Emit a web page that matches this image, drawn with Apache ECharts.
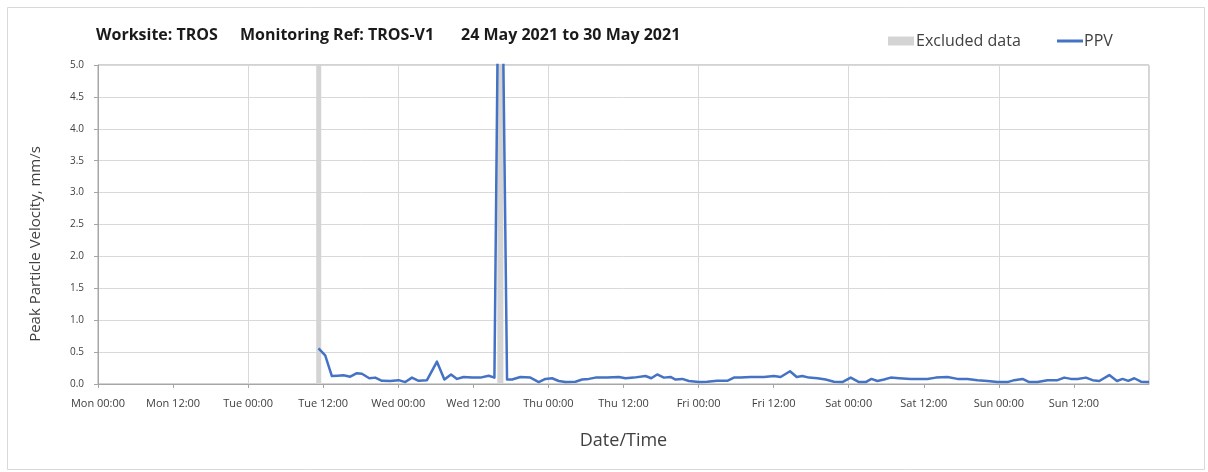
<!DOCTYPE html>
<html>
<head>
<meta charset="utf-8">
<script src="https://cdn.jsdelivr.net/npm/echarts@6/dist/echarts.min.js"></script>
<style>
html,body{margin:0;padding:0;background:#fff;}
#main{width:1208px;height:472px;}
</style>
</head>
<body>
<div id="main"></div>
<script>
// ---- data ----
var titleParts = ['Worksite: TROS', 'Monitoring Ref: TROS-V1', '24 May 2021 to 30 May 2021'];
var yAxisTitle = 'Peak Particle Velocity, mm/s';
var xAxisTitle = 'Date/Time';
var yTicks = [0, 0.5, 1.0, 1.5, 2.0, 2.5, 3.0, 3.5, 4.0, 4.5, 5.0];
var axisStart = '2021-05-24 00:00';
var axisEnd = '2021-05-31 00:00';
var dayNames = ['Sun', 'Mon', 'Tue', 'Wed', 'Thu', 'Fri', 'Sat'];
var excludedStart = ['2021-05-25 10:53', '2021-05-26 15:50'];
var excludedEnd   = ['2021-05-25 11:41', '2021-05-26 16:48'];
var ppvTimes = [
 '2021-05-25 11:15','2021-05-25 12:19','2021-05-25 13:23','2021-05-25 14:19','2021-05-25 15:15','2021-05-25 16:19',
 '2021-05-25 17:23','2021-05-25 18:11','2021-05-25 19:22','2021-05-25 20:19','2021-05-25 21:23','2021-05-25 22:43',
 '2021-05-26 00:03','2021-05-26 01:07','2021-05-26 02:11','2021-05-26 03:15','2021-05-26 04:35','2021-05-26 06:11',
 '2021-05-26 07:22','2021-05-26 08:26','2021-05-26 09:23','2021-05-26 10:27','2021-05-26 11:47','2021-05-26 13:07',
 '2021-05-26 14:27','2021-05-26 15:22','2021-05-26 16:17','2021-05-26 17:23','2021-05-26 18:11','2021-05-26 19:31',
 '2021-05-26 21:07','2021-05-26 22:27','2021-05-26 23:31',
 '2021-05-27 00:35','2021-05-27 01:39','2021-05-27 02:43','2021-05-27 04:19','2021-05-27 05:23','2021-05-27 06:27',
 '2021-05-27 07:31','2021-05-27 09:23','2021-05-27 11:15','2021-05-27 12:19','2021-05-27 13:39','2021-05-27 15:31',
 '2021-05-27 16:26','2021-05-27 17:23','2021-05-27 18:27','2021-05-27 19:31','2021-05-27 20:19','2021-05-27 21:23',
 '2021-05-27 22:27',
 '2021-05-28 00:03','2021-05-28 01:23','2021-05-28 02:59','2021-05-28 04:35','2021-05-28 05:39','2021-05-28 06:43',
 '2021-05-28 08:19','2021-05-28 10:27','2021-05-28 12:03','2021-05-28 13:07','2021-05-28 14:37','2021-05-28 15:41',
 '2021-05-28 16:35','2021-05-28 17:39','2021-05-28 19:00','2021-05-28 20:19','2021-05-28 21:39','2021-05-28 22:59',
 '2021-05-29 00:19','2021-05-29 01:39','2021-05-29 02:43','2021-05-29 03:38','2021-05-29 04:35','2021-05-29 05:39',
 '2021-05-29 06:43','2021-05-29 08:03','2021-05-29 09:55','2021-05-29 12:35','2021-05-29 13:55','2021-05-29 15:47',
 '2021-05-29 17:23','2021-05-29 18:59','2021-05-29 20:35','2021-05-29 22:11','2021-05-29 23:47',
 '2021-05-30 01:23','2021-05-30 02:27','2021-05-30 03:47','2021-05-30 04:51','2021-05-30 06:11','2021-05-30 07:47',
 '2021-05-30 09:23','2021-05-30 10:27','2021-05-30 11:31','2021-05-30 12:35','2021-05-30 13:55','2021-05-30 14:59',
 '2021-05-30 16:03','2021-05-30 17:39','2021-05-30 18:53','2021-05-30 19:47','2021-05-30 20:41','2021-05-30 21:39',
 '2021-05-30 22:43','2021-05-31 00:00'
];
var ppvValues = [
 0.56,0.45,0.125,0.13,0.136,0.115,
 0.17,0.16,0.09,0.10,0.05,0.047,
 0.06,0.03,0.10,0.05,0.06,0.35,
 0.07,0.15,0.08,0.11,0.10,0.10,
 0.13,0.10,9.4,0.07,0.07,0.11,
 0.10,0.03,0.08,
 0.09,0.047,0.03,0.036,0.07,0.08,
 0.10,0.10,0.11,0.09,0.10,0.125,
 0.09,0.15,0.10,0.11,0.07,0.08,
 0.047,
 0.03,0.036,0.05,0.05,0.10,0.10,
 0.11,0.11,0.125,0.11,0.20,0.11,
 0.125,0.10,0.09,0.07,0.036,0.03,
 0.10,0.03,0.03,0.08,0.047,0.07,
 0.10,0.09,0.08,0.08,0.10,0.11,
 0.08,0.08,0.06,0.047,0.03,
 0.03,0.06,0.08,0.03,0.03,0.06,
 0.06,0.10,0.08,0.08,0.10,0.06,
 0.047,0.14,0.047,0.08,0.05,0.09,
 0.036,0.03
];

// ---- helpers ----
function toMs(s) {
  var p = s.split(/[- :]/).map(Number);
  return Date.UTC(p[0], p[1] - 1, p[2], p[3], p[4]);
}
function pad(n) { return (n < 10 ? '0' : '') + n; }
var HOUR = 3600000;
var xMin = toMs(axisStart), xMax = toMs(axisEnd);
var ppvData = ppvTimes.map(function (t, i) { return [toMs(t), ppvValues[i]]; });
var bands = excludedStart.map(function (s, i) {
  return [{ xAxis: toMs(s) }, { xAxis: toMs(excludedEnd[i]) }];
});

var FONT = 'Open Sans';
var titleStyle = { fontFamily: FONT, fontSize: 16, fontWeight: 'bold', color: '#1a1a1a' };
var chart = echarts.init(document.getElementById('main'), null, { renderer: 'canvas' });
var option = {
  backgroundColor: '#ffffff',
  animation: false,
  title: [
    { text: titleParts[0], left: 96, top: 27, padding: 0, textStyle: titleStyle },
    { text: titleParts[1], left: 240, top: 27, padding: 0, textStyle: titleStyle },
    { text: titleParts[2], left: 461, top: 27, padding: 0, textStyle: titleStyle }
  ],
  legend: [{
    left: 888, top: 33, padding: 0,
    itemWidth: 26, itemHeight: 9,
    textStyle: { fontFamily: FONT, fontSize: 16, color: '#404040', padding: [0, 0, 0, -3] },
    data: [{ name: 'Excluded data', icon: 'rect', itemStyle: { color: '#d4d4d4' } }]
  }, {
    left: 1057, top: 33, padding: 0,
    itemWidth: 26, itemHeight: 3,
    textStyle: { fontFamily: FONT, fontSize: 16, color: '#404040', padding: [0, 0, 0, -4] },
    data: [{ name: 'PPV', icon: 'rect', itemStyle: { color: '#4472c4' } }]
  }],
  graphic: [{
    type: 'rect', left: 5, top: 5, z: -10,
    shape: { width: 1197, height: 462 },
    style: { fill: 'none', stroke: '#d9d9d9', lineWidth: 1 }
  }, {
    type: 'text', x: 36, y: 244, rotation: Math.PI / 2,
    style: { text: yAxisTitle, fontFamily: FONT, fontSize: 15, fill: '#404040', align: 'center', verticalAlign: 'middle' }
  }],
  grid: { left: 98, right: 59, top: 65, bottom: 88, show: true, borderColor: '#a6a6a6', borderWidth: 1, backgroundColor: 'transparent' },
  xAxis: [{
    type: 'value', min: xMin, max: xMax, interval: 12 * HOUR,
    name: xAxisTitle, nameLocation: 'middle', nameGap: 48,
    nameTextStyle: { fontFamily: FONT, fontSize: 18, color: '#404040' },
    axisLine: { show: true, lineStyle: { color: '#a6a6a6', width: 1 } },
    axisTick: { show: true, length: 4, inside: false, lineStyle: { color: '#a6a6a6' } },
    splitLine: { show: false },
    axisLabel: {
      fontFamily: FONT, fontSize: 11, color: '#404040', margin: 14,
      showMaxLabel: false,
      formatter: function (v) {
        var d = new Date(v);
        return dayNames[d.getUTCDay()] + ' ' + pad(d.getUTCHours()) + ':' + pad(d.getUTCMinutes());
      }
    }
  }, {
    type: 'value', min: xMin, max: xMax, interval: 24 * HOUR, position: 'bottom',
    axisLine: { show: false }, axisTick: { show: false }, axisLabel: { show: false },
    splitLine: { show: true, lineStyle: { color: '#d9d9d9', width: 1 } }
  }],
  yAxis: {
    type: 'value', min: yTicks[0], max: yTicks[yTicks.length - 1], interval: yTicks[1] - yTicks[0],
    axisLine: { show: true, lineStyle: { color: '#a6a6a6', width: 1 } },
    axisTick: { show: true, length: 4, lineStyle: { color: '#a6a6a6' } },
    splitLine: { show: true, lineStyle: { color: '#d9d9d9', width: 1 } },
    axisLabel: {
      fontFamily: FONT, fontSize: 10, color: '#404040', margin: 14,
      formatter: function (v) { return v.toFixed(1); }
    }
  },
  series: [{
    name: 'Excluded data', type: 'line', data: [], z: 1,
    itemStyle: { color: '#d4d4d4' },
    lineStyle: { color: '#d4d4d4' },
    markArea: { silent: true, itemStyle: { color: '#d4d4d4', opacity: 1 }, data: bands }
  }, {
    name: 'PPV', type: 'line', data: ppvData, z: 3,
    showSymbol: false, symbol: 'none',
    itemStyle: { color: '#4472c4' },
    lineStyle: { color: '#4472c4', width: 2.5, join: 'round' }
  }]
};
chart.setOption(option);
</script>
</body>
</html>
